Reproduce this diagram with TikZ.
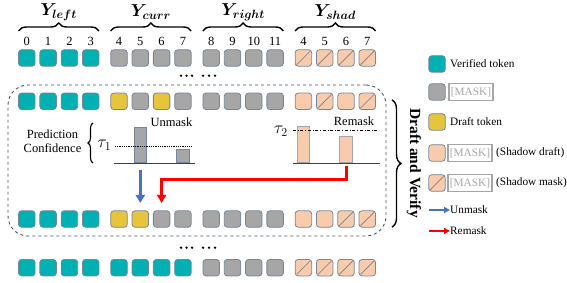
\documentclass[tikz,border=0pt]{standalone}
\usepackage{fontspec}
\setmainfont{Liberation Serif}
\usepackage{bm}
\usetikzlibrary{decorations.pathreplacing,arrows.meta,calc}
\definecolor{tealc}{HTML}{00B0B2}
\definecolor{grayc}{HTML}{A6A6A6}
\definecolor{yellc}{HTML}{E6C53C}
\definecolor{peachc}{HTML}{F8CBAD}
\definecolor{bordc}{HTML}{76869B}
\definecolor{slashc}{HTML}{8C8C8C}
\definecolor{boxc}{HTML}{44546A}
\definecolor{bluec}{HTML}{4472C4}
\definecolor{redc}{HTML}{FF0000}
\definecolor{maskc}{HTML}{A6A6A6}
\begin{document}
\begin{tikzpicture}[x=1pt,y=-1pt,
  tok/.style={rectangle,rounded corners=3pt,minimum width=16.5pt,minimum height=16.5pt,inner sep=0pt,draw=bordc,line width=0.8pt},
  tokT/.style={tok,fill=tealc},
  tokG/.style={tok,fill=grayc},
  tokY/.style={tok,fill=yellc},
  tokP/.style={tok,fill=peachc},
  tokS/.style={tok,fill=peachc,path picture={\draw[slashc,line width=0.8pt] ([xshift=1.5pt,yshift=1.5pt]path picture bounding box.south west) -- ([xshift=-1.5pt,yshift=-1.5pt]path picture bounding box.north east);}},
  tokstyle/.style={tok#1},
  numlab/.style={font=\fontsize{12.5}{14}\selectfont,inner sep=0pt},
  ylab/.style={font=\fontsize{17.5}{19}\selectfont,inner sep=0pt},
  topbrace/.style={decorate,decoration={brace,amplitude=8pt},line width=1.4pt},
  chartlab/.style={font=\fontsize{12.5}{14}\selectfont,inner sep=0pt},
  leglab/.style={font=\fontsize{11.3}{13}\selectfont,inner sep=0pt,anchor=west},
  maskbox/.style={draw=maskc,line width=1.2pt,text=maskc,minimum width=44pt,minimum height=17pt,inner sep=0pt,font=\fontsize{11.3}{13}\selectfont},
  grbar/.style={rectangle,draw=bordc,fill=grayc,line width=0.8pt,minimum width=12.5pt,inner sep=0pt,anchor=south},
  pbar/.style={rectangle,draw=grayc,fill=peachc,line width=0.8pt,minimum width=12.5pt,inner sep=0pt,anchor=south},
  axisline/.style={draw=black!75,line width=1.4pt},
  bluearr/.style={draw=bluec,line width=3pt,-{Triangle[width=9pt,length=8pt]}},
  redarr/.style={draw=redc,line width=3pt,-{Triangle[width=9pt,length=8pt]}},
  dotc/.style={circle,fill=black,inner sep=0pt,minimum size=2.6pt}
]
\useasboundingbox (0,0) rectangle (567,283);

% dashed draft-and-verify box
\node[draw=boxc,dashed,line width=0.9pt,rounded corners=20pt,minimum width=378pt,minimum height=151pt,inner sep=0pt] (dv) at (197,160.5) {};

% token rows
\foreach \r/\yy/\types in {
  1/58/{T,T,T,T,G,G,G,G,G,G,G,G,S,S,S,S},
  2/101.3/{T,T,T,T,Y,G,Y,G,G,G,G,G,P,S,P,S},
  3/219/{T,T,T,T,Y,Y,G,G,G,G,G,G,P,P,S,S},
  4/267.7/{T,T,T,T,T,T,T,T,G,G,G,G,S,S,S,S}}{
  \foreach \t [count=\k from 0] in \types {
    \pgfmathsetmacro\xx{26.8+92.2*floor(\k/4)+21.3*mod(\k,4)}
    \node[tokstyle=\t] (t\r-\k) at (\xx,\yy) {};
  }
}

% index numbers
\foreach \n [count=\k from 0] in {0,1,2,3,4,5,6,7,8,9,10,11,4,5,6,7}{
  \pgfmathsetmacro\xx{26.8+92.2*floor(\k/4)+21.3*mod(\k,4)}
  \node[numlab] (n\k) at (\xx,41) {\n};
}

% group braces and labels
\foreach \lab [count=\g from 0] in {left,curr,right,shad}{
  \pgfmathsetmacro\xa{18.5+92.2*\g}
  \pgfmathsetmacro\xb{99+92.2*\g}
  \pgfmathsetmacro\xc{58.75+92.2*\g}
  \draw[topbrace] (\xa,31) -- (\xb,31);
  \node[ylab] (y\g) at (\xc,12) {$\bm{Y_{\lab}}$};
}

% dots
\foreach \yy [count=\j] in {75.7,247.7}{
  \foreach \xx [count=\i] in {181,186.5,192,203,209,215}{
    \node[dotc] (d\j-\i) at (\xx,\yy) {};
  }
}

% left chart
\coordinate (la0) at (114,163.3);
\coordinate (la1) at (195,163.3);
\node[grbar,minimum height=35.6pt] (b1) at (t3-5 |- la0) {};
\node[grbar,minimum height=13.3pt] (b2) at (t3-7 |- la0) {};
\draw[axisline] (la0) -- (la1);
\draw[densely dotted,line width=0.8pt] (115,146) coordinate (tl0) -- (192,146) coordinate (tl1);
\node[font=\fontsize{17}{19}\selectfont,inner sep=0pt] (tau1) at (104.5,145) {$\tau_1$};
\draw[decorate,decoration={brace,amplitude=5pt},line width=1.1pt] (93,163) -- (93,123);
\node[chartlab,align=center] (pc) at (52.5,141) {Prediction\\Confidence};
\node[chartlab] (um) at (171.5,122.3) {Unmask};

% right chart
\coordinate (ra0) at (293,163.3);
\coordinate (ra1) at (380,163.3);
\node[pbar,minimum height=36pt] (c1) at (t3-12 |- ra0) {};
\node[pbar,minimum height=26.6pt] (c2) at (t3-14 |- ra0) {};
\draw[axisline] (ra0) -- (ra1);
\draw[dash dot,line width=1.1pt] (293,130.7) coordinate (tr0) -- (377,130.7) coordinate (tr1);
\node[font=\fontsize{17}{19}\selectfont,inner sep=0pt] (tau2) at (281,131) {$\tau_2$};
\node[chartlab] (rm) at (354,121.7) {Remask};

% arrows
\draw[bluearr,shorten <=6.7pt] (b1.south) -- ($(t3-5.north)+(0,-7.4)$);
\draw[redarr,shorten <=3pt] (c2.south) -- (c2.south |- 0,180) -- (t3-6.north |- 0,180) -- ($(t3-6.north)+(0,-7.4)$);

% draft and verify brace
\draw[decorate,decoration={brace,amplitude=9pt},line width=1.4pt] (392,100) -- (392,227);
\node[rotate=-90,font=\bfseries\fontsize{15.5}{17}\selectfont,inner sep=0pt] (dvl) at (414,163) {Draft and Verify};

% legend
\node[tokT] (l1) at (437,64) {};
\node[leglab] (l1t) at (450,64) {Verified token};
\node[tokG] (l2) at (437,92) {};
\node[maskbox] (l2m) at (471,92) {[MASK]};
\node[tokY] (l3) at (437,122) {};
\node[leglab] (l3t) at (450,122) {Draft token};
\node[tokP] (l4) at (437,153) {};
\node[maskbox] (l4m) at (470,153) {[MASK]};
\node[leglab] (l4t) at (496,153) {(Shadow draft)};
\node[tokS] (l5) at (437,183) {};
\node[maskbox] (l5m) at (470,183) {[MASK]};
\node[leglab] (l5t) at (496,183) {(Shadow mask)};
\coordinate (a1s) at (429,210);
\node[leglab] (l6t) at (450,210) {Unmask};
\draw[draw=bluec,line width=2pt,-{Triangle[width=6pt,length=6pt]}] (a1s) -- (l6t.west);
\coordinate (a2s) at (429,231);
\node[leglab] (l7t) at (450,231) {Remask};
\draw[draw=redc,line width=2pt,-{Triangle[width=6pt,length=6pt]}] (a2s) -- (l7t.west);
\end{tikzpicture}
\end{document}
